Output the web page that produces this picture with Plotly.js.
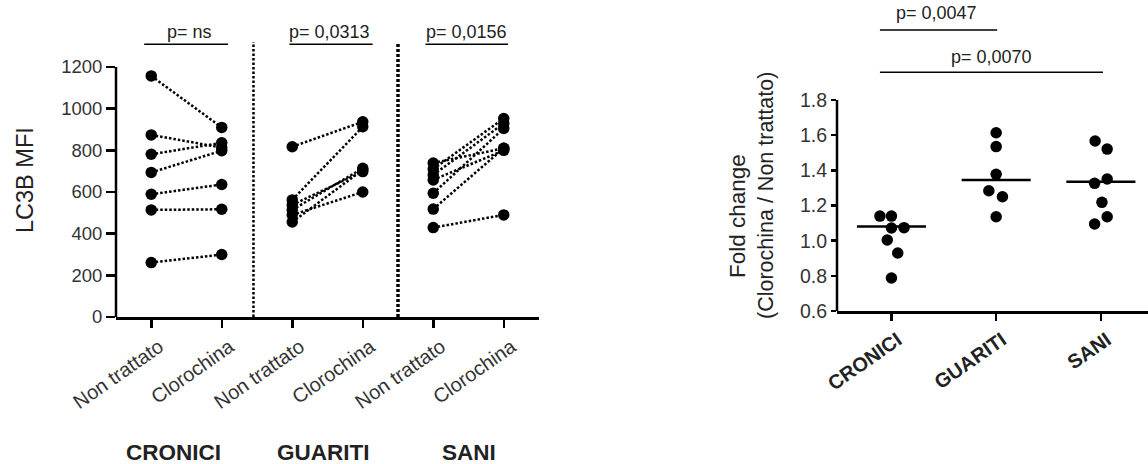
<!DOCTYPE html>
<html>
<head>
<meta charset="utf-8">
<script src="https://cdn.plot.ly/plotly-3.0.1.min.js"></script>
<style>html,body{margin:0;padding:0;background:#fff;}#chart{width:1148px;height:464px;}</style>
</head>
<body>
<div id="chart"></div>
<script>
// ---------- DATA ----------
const groups = ["CRONICI", "GUARITI", "SANI"];
const conditions = ["Non trattato", "Clorochina"];

// Left panel: paired LC3B MFI values (Non trattato -> Clorochina)
const croniciNonTrattato = [1157, 874, 781, 694, 589, 514, 261];
const croniciClorochina  = [910, 813, 836, 798, 636, 517, 300];
const guaritiNonTrattato = [817, 562, 538, 514, 490, 456];
const guaritiClorochina  = [937, 913, 698, 714, 600, 706];
const saniNonTrattato    = [739, 710, 682, 658, 594, 518, 429];
const saniClorochina     = [810, 953, 929, 800, 905, 810, 490];

const leftPValues = ["p= ns", "p= 0,0313", "p= 0,0156"];

// Right panel: fold change (Clorochina / Non trattato)
const foldCronici = [1.14, 1.14, 1.072, 1.074, 1.004, 0.93, 0.788];
const foldGuariti = [1.614, 1.535, 1.378, 1.284, 1.25, 1.136];
const foldSani    = [1.567, 1.521, 1.351, 1.326, 1.218, 1.136, 1.095];
const foldMedians = [1.08, 1.345, 1.335];
const rightPValues = ["p= 0,0047", "p= 0,0070"];

// ---------- LAYOUT CONSTANTS (not data) ----------
const jitter = [
  [-0.11, 0, 0, 0.12, -0.04, 0.06, 0],
  [0, 0, 0, -0.07, 0.06, 0],
  [-0.055, 0.06, 0.06, -0.06, 0.01, 0.06, -0.06]
];
const W = 1148, H = 464;
const px = v => v / W, py = v => 1 - v / H;
const black = "#000";
const textCol = "#222";
const FONT = "Liberation Sans, Arial, sans-serif";

const pairs = [
  [croniciNonTrattato, croniciClorochina],
  [guaritiNonTrattato, guaritiClorochina],
  [saniNonTrattato, saniClorochina]
];

const traces = [];
pairs.forEach((p, g) => {
  const xs = [], ys = [];
  p[0].forEach((v, i) => {
    xs.push(2 * g, 2 * g + 1, null);
    ys.push(v, p[1][i], null);
  });
  traces.push({
    type: "scatter", mode: "lines+markers", x: xs, y: ys,
    xaxis: "x", yaxis: "y",
    line: {color: black, width: 2.5, dash: "2.5px,2px"},
    marker: {color: black, size: 11.5},
    hoverinfo: "skip", showlegend: false, cliponaxis: false
  });
});

const folds = [foldCronici, foldGuariti, foldSani];
folds.forEach((arr, g) => {
  traces.push({
    type: "scatter", mode: "markers",
    x: arr.map((v, i) => g + jitter[g][i]), y: arr,
    xaxis: "x2", yaxis: "y2",
    marker: {color: black, size: 11.5},
    showlegend: false, hoverinfo: "skip", cliponaxis: false
  });
  traces.push({
    type: "scatter", mode: "lines",
    x: [g - 0.33, g + 0.33], y: [foldMedians[g], foldMedians[g]],
    xaxis: "x2", yaxis: "y2",
    line: {color: black, width: 2.5},
    showlegend: false, hoverinfo: "skip"
  });
});

const leftX0 = px(116), leftX1 = px(539);
const rightX0 = px(837);

const shapes = [
  // left y axis line (0..1200)
  {type: "line", xref: "paper", yref: "y", x0: leftX0, x1: leftX0, y0: 0, y1: 1200, line: {color: black, width: 2.5}},
  // right y axis line (0.6..1.8)
  {type: "line", xref: "paper", yref: "y2", x0: rightX0, x1: rightX0, y0: 0.6, y1: 1.8, line: {color: black, width: 2.5}},
  // dotted dividers
  {type: "line", xref: "x", yref: "y", x0: 1.45, x1: 1.45, y0: 0, y1: 1320, line: {color: black, width: 2.5, dash: "2.5px,2px"}},
  {type: "line", xref: "x", yref: "y", x0: 3.5, x1: 3.5, y0: 0, y1: 1320, line: {color: black, width: 3.5, dash: "3px,2px"}},
  // left significance bars
  {type: "line", xref: "x", yref: "y", x0: -0.1, x1: 1.09, y0: 1309, y1: 1309, line: {color: black, width: 1.5}},
  {type: "line", xref: "x", yref: "y", x0: 1.96, x1: 3.14, y0: 1309, y1: 1309, line: {color: black, width: 1.5}},
  {type: "line", xref: "x", yref: "y", x0: 3.89, x1: 5.06, y0: 1309, y1: 1309, line: {color: black, width: 1.5}},
  // right significance bars
  {type: "line", xref: "x2", yref: "y2", x0: -0.11, x1: 1.01, y0: 2.198, y1: 2.198, line: {color: black, width: 1.5}},
  {type: "line", xref: "x2", yref: "y2", x0: -0.11, x1: 2.02, y0: 1.958, y1: 1.958, line: {color: black, width: 1.5}}
];

const annotations = [];
const leftPX = [0.54, 2.53, 4.47];
leftPValues.forEach((t, i) => annotations.push({
  text: t, xref: "x", yref: "paper", x: leftPX[i], y: py(32),
  showarrow: false, xanchor: "center", yanchor: "middle",
  font: {family: FONT, size: 18, color: textCol}
}));
const rightPX = [0.43, 0.955], rightPY = [13.5, 57.5];
rightPValues.forEach((t, i) => annotations.push({
  text: t, xref: "x2", yref: "paper", x: rightPX[i], y: py(rightPY[i]),
  showarrow: false, xanchor: "center", yanchor: "middle",
  font: {family: FONT, size: 18, color: textCol}
}));
const groupLabelX = [0.31, 2.44, 4.5];
groups.forEach((g, i) => annotations.push({
  text: "<b>" + g + "</b>", xref: "x", yref: "paper", x: groupLabelX[i], y: py(452),
  showarrow: false, xanchor: "center", yanchor: "middle",
  font: {family: FONT, size: 22.5, color: textCol}
}));
annotations.push({
  text: "LC3B MFI", xref: "paper", yref: "paper", x: px(25), y: py(180),
  textangle: -90, showarrow: false, xanchor: "center", yanchor: "middle",
  font: {family: FONT, size: 23.5, color: textCol}
});
annotations.push({
  text: "Fold change", xref: "paper", yref: "paper", x: px(738), y: py(216),
  textangle: -90, showarrow: false, xanchor: "center", yanchor: "middle",
  font: {family: FONT, size: 22.5, color: textCol}
});
annotations.push({
  text: "(Clorochina / Non trattato)", xref: "paper", yref: "paper", x: px(766), y: py(196),
  textangle: -90, showarrow: false, xanchor: "center", yanchor: "middle",
  font: {family: FONT, size: 21.5, color: textCol}
});

const leftTickVals = [0, 1, 2, 3, 4, 5];
const leftTickText = leftTickVals.map(i => conditions[i % 2]);

const layout = {
  width: W, height: H,
  margin: {l: 0, r: 0, t: 0, b: 0},
  paper_bgcolor: "#fff", plot_bgcolor: "#fff",
  showlegend: false,
  font: {family: FONT, color: textCol},
  xaxis: {
    domain: [leftX0, leftX1], range: [-0.5, 5.5], anchor: "y",
    showline: true, linecolor: black, linewidth: 2.5,
    showgrid: false, zeroline: false,
    tickvals: leftTickVals, ticktext: leftTickText,
    ticks: "outside", ticklen: 8, tickwidth: 2.5, tickcolor: black,
    tickangle: -35, ticklabelshift: 8,
    tickfont: {family: FONT, size: 20, color: "#333"}
  },
  yaxis: {
    domain: [py(317), py(39.9)], range: [0, 1330], anchor: "x",
    showline: false, showgrid: false, zeroline: false,
    tickvals: [0, 200, 400, 600, 800, 1000, 1200],
    ticks: "outside", ticklen: 9, tickwidth: 2.5, tickcolor: black,
    tickfont: {family: FONT, size: 18.5, color: "#333"}
  },
  xaxis2: {
    domain: [rightX0, 1], range: [-0.52, 2.45], anchor: "y2",
    showline: true, linecolor: black, linewidth: 2.5,
    showgrid: false, zeroline: false,
    tickvals: [0, 1, 2], ticktext: groups.map(g => "<b>" + g + "</b>"),
    ticks: "outside", ticklen: 7, tickwidth: 2.5, tickcolor: black,
    tickangle: -35, ticklabelshift: 6,
    tickfont: {family: FONT, size: 20, color: textCol}
  },
  yaxis2: {
    domain: [py(311), py(26.2)], range: [0.6, 2.22], anchor: "x2",
    showline: false, showgrid: false, zeroline: false,
    tickvals: [0.6, 0.8, 1.0, 1.2, 1.4, 1.6, 1.8], tickformat: ".1f",
    ticks: "outside", ticklen: 5, tickwidth: 2.5, tickcolor: black,
    ticklabelshift: 0,
    tickfont: {family: FONT, size: 19.5, color: "#333"}
  },
  shapes: shapes,
  annotations: annotations
};

Plotly.newPlot("chart", traces, layout, {staticPlot: true, displayModeBar: false});
</script>
</body>
</html>
